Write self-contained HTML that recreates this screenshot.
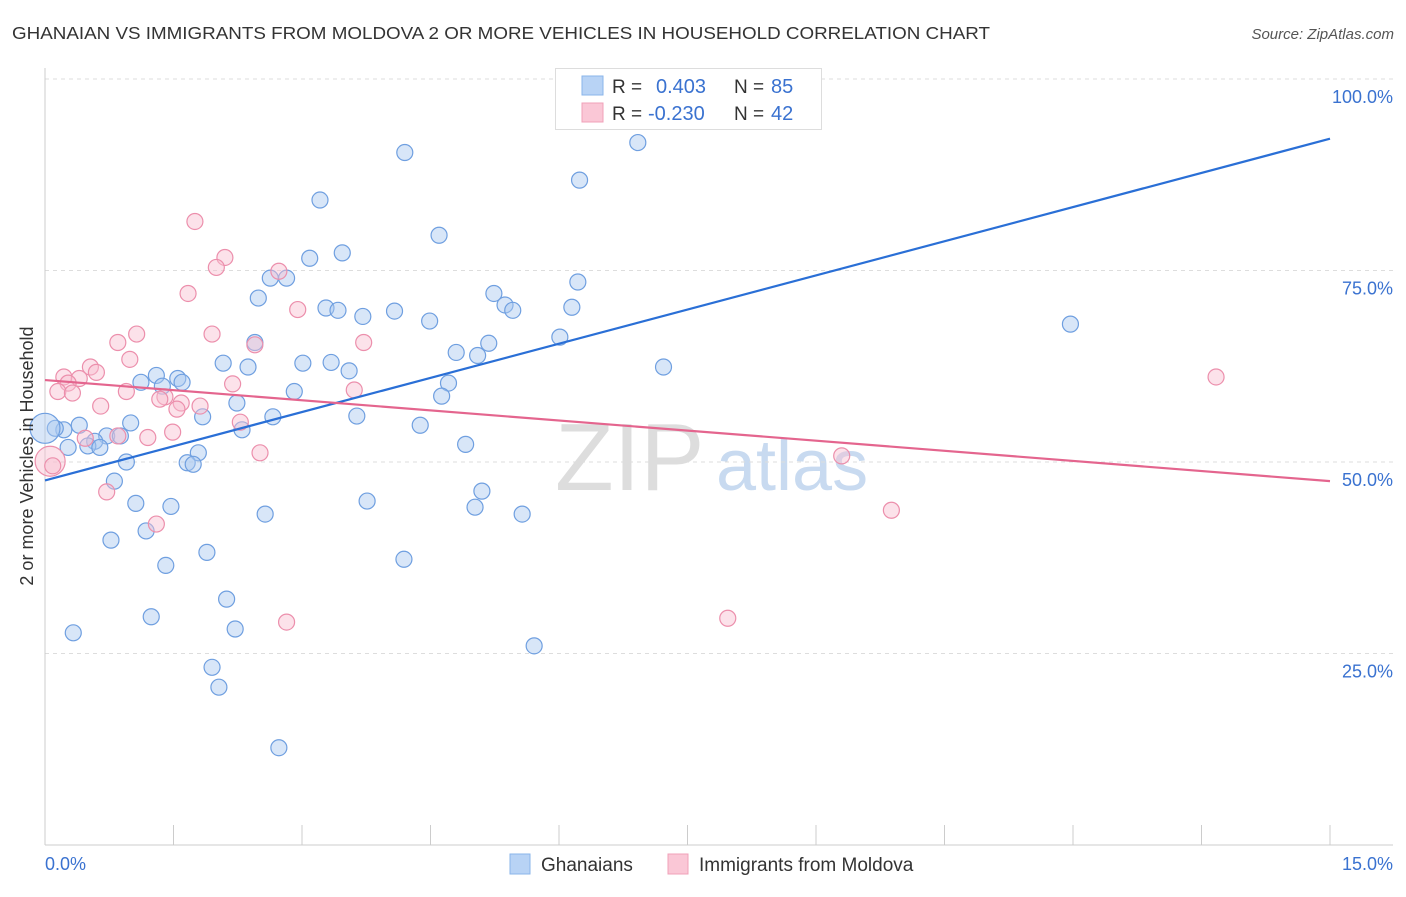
<!DOCTYPE html>
<html><head><meta charset="utf-8"><style>
body{margin:0;background:#fff;font-family:"Liberation Sans",sans-serif;}
svg text{font-family:"Liberation Sans",sans-serif;}
</style></head><body>
<svg id="chart" width="1406" height="892" xmlns="http://www.w3.org/2000/svg">
<text x="12" y="39" font-size="17.5" fill="#333" textLength="978" lengthAdjust="spacingAndGlyphs">GHANAIAN VS IMMIGRANTS FROM MOLDOVA 2 OR MORE VEHICLES IN HOUSEHOLD CORRELATION CHART</text>
<text x="1394" y="39" font-size="15" fill="#555" text-anchor="end" font-style="italic">Source: ZipAtlas.com</text>
<g>
<text x="555" y="490" font-size="96" fill="#ddd" font-family="Liberation Serif">ZIP</text>
<text x="716" y="490" font-size="72" fill="#c8daf0">atlas</text>
</g>
<g id="grid"></g><g id="axes"></g><g id="pts"></g><g id="lines"></g>
<g>
<rect x="555.5" y="68.5" width="266" height="61" fill="#fff" stroke="#ddd"/>
<rect x="582" y="76" width="21" height="19" fill="#b8d3f5" stroke="#8ab4ea"/>
<rect x="582" y="103" width="21" height="19" fill="#fac7d6" stroke="#f0a0b8"/>
<text x="612" y="93" font-size="19" fill="#333">R =</text><text x="656" y="93" font-size="20" fill="#3a72d0">0.403</text>
<text x="734" y="93" font-size="19" fill="#333">N =</text><text x="771" y="93" font-size="20" fill="#3a72d0">85</text>
<text x="612" y="120" font-size="19" fill="#333">R =</text><text x="648" y="120" font-size="20" fill="#3a72d0">-0.230</text>
<text x="734" y="120" font-size="19" fill="#333">N =</text><text x="771" y="120" font-size="20" fill="#3a72d0">42</text>
</g>
<g>
<rect x="510" y="854" width="20" height="20" fill="#b8d3f5" stroke="#8ab4ea"/>
<text x="541" y="871" font-size="19" fill="#333">Ghanaians</text>
<rect x="668" y="854" width="20" height="20" fill="#fac7d6" stroke="#f0a0b8"/>
<text x="699" y="871" font-size="19" fill="#333">Immigrants from Moldova</text>
</g>
<text x="33" y="456" font-size="18" fill="#333" text-anchor="middle" transform="rotate(-90 33 456)">2 or more Vehicles in Household</text>
</svg>
<script>
const yTicks=[25,50,75,100];
const yTickLabels=["25.0%","50.0%","75.0%","100.0%"];
const xTickVals=[0,1.5,3,4.5,6,7.5,9,10.5,12,13.5,15];
const blueX=[4.20,6.92,6.24,3.21,4.60,3.47,3.09,2.63,2.82,6.22,2.49,5.24,3.28,3.42,5.37,5.46,6.15,4.08,3.71,4.49,11.97,6.01,2.45,5.18,4.80,5.05,2.08,3.01,3.34,2.37,7.22,3.55,1.30,1.55,1.12,1.60,1.37,4.71,2.91,4.63,2.24,1.84,2.66,3.64,4.38,1.00,0.40,0.22,2.30,0.72,0.88,0.12,0.00,0.58,0.50,0.64,0.27,4.91,1.79,1.66,1.73,0.95,0.81,5.10,3.76,1.06,1.47,5.02,2.57,5.57,1.18,0.77,1.89,4.19,1.41,2.12,1.24,2.22,0.33,5.71,1.95,2.03,2.73];
const blueY=[90.4,91.7,86.8,84.2,79.6,77.3,76.6,74.0,74.0,73.5,71.4,72.0,70.1,69.8,70.5,69.8,70.2,69.7,69.0,68.4,68.0,66.3,65.6,65.5,64.3,63.9,62.9,62.9,63.0,62.4,62.4,61.9,61.3,60.9,60.4,60.4,59.9,60.3,59.2,58.6,57.7,55.9,55.9,56.0,54.8,55.1,54.8,54.2,54.2,53.4,53.4,54.4,54.4,52.7,52.1,51.9,51.9,52.3,51.2,49.9,49.7,50.0,47.5,46.2,44.9,44.6,44.2,44.1,43.2,43.2,41.0,39.8,38.2,37.3,36.5,32.1,29.8,28.2,27.7,26.0,23.2,20.6,12.7];
const pinkX=[1.75,2.10,2.00,2.73,1.67,2.95,1.95,1.07,0.85,2.45,3.72,0.99,0.53,0.60,0.22,0.40,0.27,2.19,0.15,0.32,0.95,3.61,1.40,1.34,1.59,1.81,1.54,0.65,2.28,1.49,1.20,0.85,0.47,0.06,0.09,2.51,9.30,0.72,1.30,9.88,2.82,7.97,13.67];
const pinkY=[81.4,76.7,75.4,74.9,72.0,69.9,66.7,66.7,65.6,65.3,65.6,63.4,62.4,61.7,61.1,60.9,60.3,60.2,59.2,59.0,59.2,59.4,58.5,58.2,57.7,57.3,56.9,57.3,55.2,53.9,53.2,53.4,53.1,50.1,49.5,51.2,50.8,46.1,41.9,43.7,29.1,29.6,61.1];
const blueTrend=[47.6,92.2];
const pinkTrend=[60.7,47.5];
const NS="http://www.w3.org/2000/svg";
const X=v=>45+v*(1285/15), Y=v=>845-v*7.66;
function mk(t,a,p){const e=document.createElementNS(NS,t);for(const k in a)e.setAttribute(k,a[k]);p.appendChild(e);return e;}
const grid=document.getElementById('grid'),axes=document.getElementById('axes'),pts=document.getElementById('pts'),lines=document.getElementById('lines');
yTicks.forEach((v,i)=>{
 const l=mk('line',{x1:45,x2:1393,y1:Y(v),y2:Y(v),stroke:'#ddd','stroke-dasharray':'4,4'},grid);
 
 
 const t=mk('text',{x:1393,y:Y(v)+24,'font-size':18,fill:'#3a72d0','text-anchor':'end'},axes);t.textContent=yTickLabels[i];
 
 
});
const ax=mk('line',{x1:45,x2:45,y1:68,y2:845,stroke:'#ccc'},axes);


const bx=mk('line',{x1:45,x2:1393,y1:845,y2:845,stroke:'#ccc'},axes);


xTickVals.forEach(v=>{const t=mk('line',{x1:X(v),x2:X(v),y1:825,y2:845,stroke:'#ccc'},axes);
 
 });
const x0=mk('text',{x:45,y:870,'font-size':18,fill:'#3a72d0'},axes);x0.textContent='0.0%';


const x1=mk('text',{x:1393,y:870,'font-size':18,fill:'#3a72d0','text-anchor':'end'},axes);x1.textContent='15.0%';


function dots(xs,ys,fill,stroke,name,bigIdx){
 xs.forEach((x,i)=>{const c=mk('circle',{cx:X(x),cy:Y(ys[i]),r:bigIdx===i?15:8,fill:fill,'fill-opacity':0.45,stroke:stroke,'stroke-width':1.2},pts);
 
 });
}
dots(blueX,blueY,'#a9c8f0','#6f9fe0','ghanaian-point',52);
dots(pinkX,pinkY,'#f8bfd0','#ec8fac','moldova-point',33);
const bl=mk('line',{x1:X(0),y1:Y(blueTrend[0]),x2:X(15),y2:Y(blueTrend[1]),stroke:'#2a6fd6','stroke-width':2.2},lines);


const pl=mk('line',{x1:X(0),y1:Y(pinkTrend[0]),x2:X(15),y2:Y(pinkTrend[1]),stroke:'#e4658e','stroke-width':2.2},lines);


</script>
</body></html>
